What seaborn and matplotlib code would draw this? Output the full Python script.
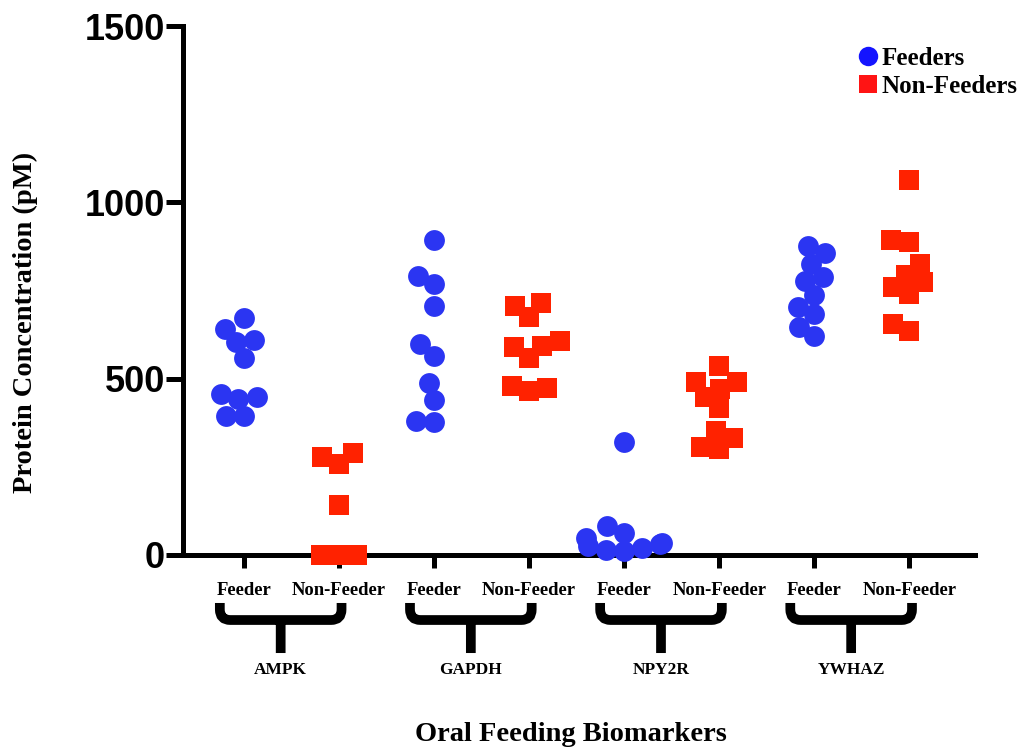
import matplotlib
matplotlib.use("Agg")
import matplotlib.pyplot as plt
from matplotlib.path import Path
from matplotlib.patches import PathPatch
from matplotlib.lines import Line2D
import matplotlib.transforms as mtransforms
import pandas as pd
import seaborn as sns

# --- data -----------------------------------------------------------------
biomarkers = ["AMPK", "GAPDH", "NPY2R", "YWHAZ"]
status_labels = ["Feeder", "Non-Feeder"]
legend_labels = ["Feeders", "Non-Feeders"]
y_ticks = [0, 500, 1000, 1500]

ampk_feeders = [671, 641, 611, 603, 558, 456, 447, 442, 395, 395]
ampk_nonfeeders = [289, 278, 258, 141, 0, 0, 0]
gapdh_feeders = [892, 791, 769, 705, 597, 565, 487, 440, 381, 376]
gapdh_nonfeeders = [714, 707, 676, 606, 594, 589, 560, 478, 473, 464]
npy2r_feeders = [319, 82, 63, 48, 35, 31, 25, 20, 15, 10]
npy2r_nonfeeders = [537, 490, 490, 471, 447, 418, 352, 333, 305, 300]
ywhaz_feeders = [876, 857, 826, 788, 778, 736, 703, 684, 646, 620]
ywhaz_nonfeeders = [1064, 892, 887, 826, 793, 774, 760, 741, 655, 634]

feeder_sets = [ampk_feeders, gapdh_feeders, npy2r_feeders, ywhaz_feeders]
nonfeeder_sets = [ampk_nonfeeders, gapdh_nonfeeders, npy2r_nonfeeders, ywhaz_nonfeeders]

# --- long table -------------------------------------------------------------
rows = []
for marker_name, fed, nonfed in zip(biomarkers, feeder_sets, nonfeeder_sets):
    for v in fed:
        rows.append((f"{marker_name} {status_labels[0]}", status_labels[0], v))
    for v in nonfed:
        rows.append((f"{marker_name} {status_labels[1]}", status_labels[1], v))
df = pd.DataFrame(rows, columns=["column", "status", "conc"])
column_order = [f"{b} {s}" for b in biomarkers for s in status_labels]

# --- style ----------------------------------------------------------------
sns.set_theme(style="white")
SERIF = ["Liberation Serif", "DejaVu Serif"]
SANS = ["Liberation Sans", "DejaVu Sans"]
plt.rcParams["font.family"] = SERIF
plt.rcParams["text.color"] = "black"
plt.rcParams["axes.labelcolor"] = "black"
plt.rcParams["xtick.color"] = "black"
plt.rcParams["ytick.color"] = "black"
BLUE = "#2b35f2"
RED = "#ff2200"
MARKER_PT = 15      # drawn marker size
PACK_PT = 12.5      # size used for the swarm packing, so markers overlap a bit

fig = plt.figure(figsize=(10.26, 7.49), dpi=100)
ax = fig.add_axes([183 / 1026, 194 / 749, 792 / 1026, 529 / 749])

sns.swarmplot(data=df[df.status == status_labels[0]], x="column", y="conc",
              order=column_order, color=BLUE, marker="o", size=PACK_PT,
              linewidth=0, warn_thresh=1.0, ax=ax)
sns.swarmplot(data=df[df.status == status_labels[1]], x="column", y="conc",
              order=column_order, color=RED, marker="s", size=PACK_PT,
              linewidth=0, warn_thresh=1.0, ax=ax)

# --- axes -----------------------------------------------------------------
ax.set_ylim(0, 1500)
ax.set_xlim(-0.64, 7.69)
ax.set_yticks(y_ticks)
ax.set_yticklabels([str(t) for t in y_ticks], fontfamily=SANS,
                   fontweight="bold", fontsize=26)
ax.set_xticks(range(len(column_order)))
ax.set_xticklabels([s for _ in biomarkers for s in status_labels],
                   fontfamily=SERIF, fontweight="bold", fontsize=13.4)
shift = mtransforms.ScaledTranslation(-6 / 100, 0, fig.dpi_scale_trans)
for lbl in ax.get_xticklabels():
    lbl.set_transform(lbl.get_transform() + shift)

# lay out the swarms once at the packing size, then freeze them and enlarge
fig.canvas.draw()
for coll in ax.collections:
    if "draw" in coll.__dict__:
        del coll.draw
    coll.set_sizes([MARKER_PT ** 2])
    coll.set_clip_on(False)
    coll.set_zorder(5)

for side in ("top", "right"):
    ax.spines[side].set_visible(False)
for side in ("left", "bottom"):
    ax.spines[side].set_linewidth(3.6)
    ax.spines[side].set_color("black")
    ax.spines[side].set_capstyle("projecting")
ax.tick_params(axis="y", direction="out", length=12, width=3.6,
               color="black", labelcolor="black", pad=1, left=True)
ax.tick_params(axis="x", direction="out", length=9.5, width=3.6,
               color="black", labelcolor="black", pad=10, bottom=True)
ax.grid(False)

ax.set_ylabel("Protein Concentration (pM)", fontfamily=SERIF,
              fontweight="bold", fontsize=20.5, color="black")
ax.yaxis.set_label_coords(-0.183, 0.44)
ax.set_xlabel("Oral Feeding Biomarkers", fontfamily=SERIF,
              fontweight="bold", fontsize=20.5, color="black")
ax.xaxis.set_label_coords(0.49, -0.315)

# --- group braces -----------------------------------------------------------
brace_tf = ax.get_xaxis_transform() + mtransforms.ScaledTranslation(
    -5 / 100, 0, fig.dpi_scale_trans)
y_top, y_bar, y_stem = -0.0907, -0.1229, -0.1853
rx, ry = 0.11, 0.02   # corner rounding (x in columns, y in axes fraction)
for i, name in enumerate(biomarkers):
    left, right = 2 * i - 0.2, 2 * i + 1 + 0.08
    mid = (left + right) / 2
    verts = [(left, y_top), (left, y_bar + ry), (left, y_bar), (left + rx, y_bar),
             (right - rx, y_bar), (right, y_bar), (right, y_bar + ry), (right, y_top),
             (mid, y_bar), (mid, y_stem)]
    codes = [Path.MOVETO, Path.LINETO, Path.CURVE3, Path.CURVE3,
             Path.LINETO, Path.CURVE3, Path.CURVE3, Path.LINETO,
             Path.MOVETO, Path.LINETO]
    ax.add_patch(PathPatch(Path(verts, codes), facecolor="none",
                           edgecolor="black", linewidth=7,
                           joinstyle="round", capstyle="butt",
                           transform=brace_tf, clip_on=False))
    ax.text(mid, -0.217, name, transform=brace_tf, ha="center", va="center",
            fontfamily=SERIF, fontweight="bold", fontsize=12.5, color="black")

# --- legend -----------------------------------------------------------------
handles = [
    Line2D([], [], linestyle="none", marker="o", markersize=14,
           markerfacecolor="#1414ff", markeredgewidth=0),
    Line2D([], [], linestyle="none", marker="s", markersize=13,
           markerfacecolor="#ff1414", markeredgewidth=0),
]
leg = fig.legend(handles, legend_labels, loc="upper left",
                 bbox_to_anchor=(858 / 1026, 1 - 47 / 749), frameon=False,
                 borderpad=0, borderaxespad=0, handlelength=0.8,
                 handletextpad=0.15, labelspacing=0.2,
                 prop={"family": SERIF, "weight": "bold", "size": 18})
for t in leg.get_texts():
    t.set_color("black")

fig.savefig("out.png", dpi=100)
